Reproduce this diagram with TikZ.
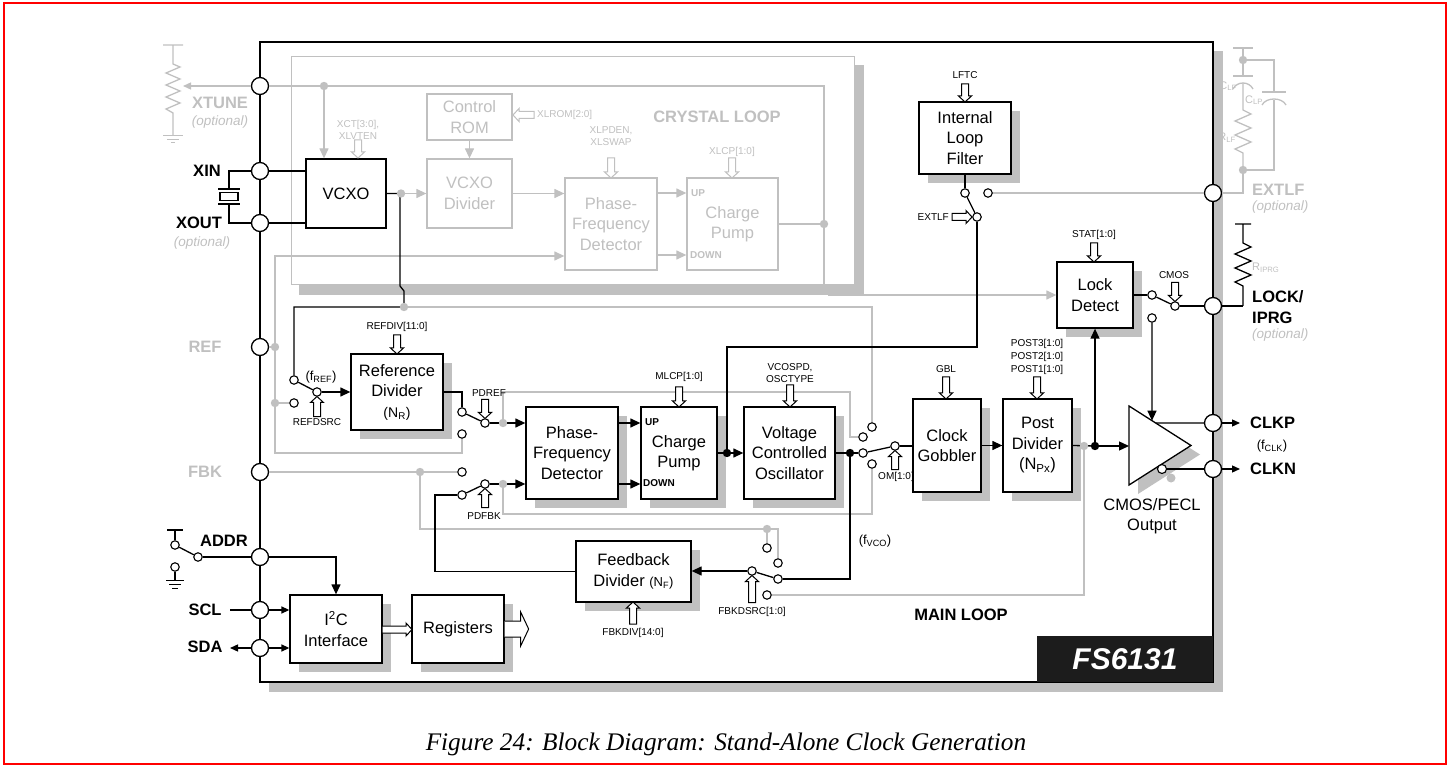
\documentclass[tikz,border=0pt]{standalone}
\usepackage{fontspec}
\setmainfont{Liberation Sans}
\newfontfamily\capfont{Liberation Serif}
\usetikzlibrary{arrows.meta,shadows,calc}
\definecolor{lg}{RGB}{192,192,192}
\definecolor{shd}{RGB}{192,192,192}
\definecolor{fsblk}{RGB}{28,28,28}
\newcommand\busar[5][busst]{\draw[#1,shift={(#2,#3)},rotate=#4] (0,0) -- (-6,-6.5) -- (-6,-3.5) -- (-#5,-3.5) -- (-#5,3.5) -- (-6,3.5) -- (-6,6.5) -- cycle;}
\begin{document}
\begin{tikzpicture}[x=1pt,y=-1pt,
 ln/.style={line width=1.3pt,black},
 gln/.style={line width=1.3pt,lg},
 arr/.style={-{Triangle[length=10pt,width=9pt]}},
 sarr/.style={-{Triangle[length=8pt,width=7pt]}},
 bxf/.style={font=\fontsize{16.5}{20.5}\selectfont},
 blkns/.style={draw,line width=1.3pt,fill=white,inner sep=0pt,align=center,bxf},
 blk/.style={blkns,drop shadow={shadow xshift=9pt,shadow yshift=-9pt,opacity=1,fill=shd}},
 gblk/.style={draw=lg,line width=1.3pt,fill=white,text=lg,inner sep=0pt,align=center,bxf},
 pinc/.style={circle,draw,line width=1.3pt,fill=white,minimum size=17pt,inner sep=0pt},
 ct/.style={circle,draw,line width=1.1pt,fill=white,minimum size=8.5pt,inner sep=0pt},
 sl/.style={font=\fontsize{10}{12.5}\selectfont,inner sep=0pt,align=center},
 gsl/.style={sl,text=lg},
 fl/.style={font=\fontsize{13}{15}\selectfont,inner sep=0pt},
 pl/.style={font=\bfseries\fontsize{16.5}{19}\selectfont,inner sep=0pt},
 gpl/.style={pl,text=lg},
 opt/.style={font=\itshape\fontsize{13.5}{15}\selectfont,text=lg,inner sep=0pt},
 upl/.style={font=\bfseries\fontsize{10}{12}\selectfont,inner sep=0pt},
 busst/.style={draw,line width=1pt,fill=white},
 gbusst/.style={draw=lg,line width=1pt,fill=white},
]
\useasboundingbox (0,0) rectangle (1452,767);
\draw[red,line width=2pt] (3.5,3.5) rectangle (1446,764);

% ---------- external parts ----------
% XTUNE potentiometer
\draw[gln] (163,45) -- (183,45) (173,45) -- (173,64) -- (180,67) -- (166,73) -- (180,79) -- (166,85) -- (180,91) -- (166,97) -- (180,103) -- (166,109) -- (173,113) -- (173,136);
\draw[gln,line width=1pt] (163,136) -- (183,136) (167,139.5) -- (179,139.5) (171,143) -- (175,143);
% crystal
\draw[ln] (218,189) -- (240,189) (218,204) -- (240,204);
\draw[ln,line width=1.1pt] (220,192.5) rectangle (238,200.5);
% ADDR switch
\draw[ln] (167,530) -- (183,530);
\draw[ln,line width=1pt] (166,580) -- (184,580) (169,584) -- (181,584) (172,588) -- (178,588);
% external loop filter
\draw[gln] (1233,48) -- (1253,48) (1243,48) -- (1243,76) (1233,76) -- (1253,76);
\draw[gln] (1233,89) .. controls (1237,81) and (1249,81) .. (1253,89);
\draw[gln] (1243,83) -- (1243,110) -- (1251,114) -- (1235,121) -- (1251,128) -- (1235,135) -- (1251,142) -- (1235,149) -- (1243,153) -- (1243,170);
\draw[gln] (1243,60) -- (1274,60) -- (1274,92) (1262,92) -- (1286,92);
\draw[gln] (1262,105) .. controls (1266,97) and (1282,97) .. (1286,105);
\draw[gln] (1274,100) -- (1274,170) -- (1243,170);
\node[gsl,anchor=east,font=\fontsize{11}{12}\selectfont] at (1237,86) {C\textsubscript{LF}};
\node[gsl,anchor=west,font=\fontsize{11}{12}\selectfont] at (1245,100) {C\textsubscript{LP}};
\node[gsl,anchor=east,font=\fontsize{11}{12}\selectfont] at (1236,138) {R\textsubscript{LF}};
% R_IPRG
\draw[ln] (1235,224) -- (1251,224) (1243,224) -- (1243,243) -- (1251,247) -- (1235,254) -- (1251,261) -- (1235,268) -- (1251,275) -- (1235,282) -- (1243,286) -- (1243,306);
\node[gsl,anchor=west,font=\fontsize{11}{12}\selectfont] at (1252,268) {R\textsubscript{IPRG}};

% ---------- chip ----------
\fill[shd] (269,51) rectangle (1223,692);
\draw[ln,fill=white] (260,42) rectangle (1213,682);
\node[fill=fsblk,text=white,minimum width=176pt,minimum height=46pt,inner sep=0pt,font=\bfseries\itshape\fontsize{30}{32}\selectfont] (fsn) at (1125,659) {FS6131};

% crystal loop box
\fill[shd] (299,65) rectangle (864,295);
\draw[lg,line width=1pt,fill=white] (291,57) rectangle (854,285);

% ---------- blocks ----------
\node[blkns,minimum width=80pt,minimum height=69pt] (vcxo) at (346,193.5) {VCXO};
\node[gblk,minimum width=85pt,minimum height=46pt] (rom) at (469.5,117) {Control\\ROM};
\node[gblk,minimum width=85pt,minimum height=69pt] (vdiv) at (469.5,193.5) {VCXO\\Divider};
\node[gblk,minimum width=92pt,minimum height=92pt] (xpfd) at (611,224) {Phase-\\Frequency\\Detector};
\node[gblk,minimum width=91pt,minimum height=92pt] (xcp) at (732.5,224) {Charge\\Pump};
\node[blk,minimum width=92pt,minimum height=72pt] (ilf) at (965,138) {Internal\\Loop\\Filter};
\node[blk,minimum width=76pt,minimum height=66pt] (ld) at (1095,295) {Lock\\Detect};
\node[blk,minimum width=92pt,minimum height=76pt] (rd) at (397,392) {Reference\\Divider\\{\fontsize{14}{16}\selectfont(N\textsubscript{R})}};
\node[blk,minimum width=92pt,minimum height=92pt] (pfd) at (572,453) {Phase-\\Frequency\\Detector};
\node[blk,minimum width=76pt,minimum height=92pt] (cp) at (679,453) {Charge\\Pump};
\node[blk,minimum width=91pt,minimum height=92pt] (vco) at (789.5,453) {Voltage\\Controlled\\Oscillator};
\node[blk,minimum width=68pt,minimum height=93pt] (cg) at (947,445.5) {Clock\\Gobbler};
\node[blk,minimum width=69pt,minimum height=93pt] (pd) at (1037.5,445.5) {Post\\Divider\\(N\textsubscript{Px})};
\node[blk,minimum width=115pt,minimum height=61pt] (fd) at (633.5,571.5) {Feedback\\Divider {\fontsize{13}{15}\selectfont(N\textsubscript{F})}};
\node[blk,minimum width=92pt,minimum height=68pt] (i2c) at (336,629) {I\textsuperscript{2}C\\Interface};
\node[blk,minimum width=92pt,minimum height=68pt] (reg) at (458,629) {Registers};

\node[upl,text=lg,anchor=west] at (691,193) {UP};
\node[upl,text=lg,anchor=west] at (690,255) {DOWN};
\node[upl,anchor=west] at (645,422) {UP};
\node[upl,anchor=west] at (643,483) {DOWN};

% output buffer
\coordinate (bA) at (1129,406); \coordinate (bB) at (1129,485); \coordinate (bC) at (1191,445.5);
\fill[shd] ($(bA)+(9,9)$) -- ($(bB)+(9,9)$) -- ($(bC)+(9,9)$) -- cycle;
\fill[shd] (1171,478) circle (4.5);
\draw[ln,fill=white,line join=miter] (bA) -- (bB) -- (bC) -- cycle;
\node[ct,minimum size=9pt] (bub) at (1162,469) {};

% ---------- pins ----------
\node[pinc] (pXT) at (260,86) {};
\node[pinc] (pXIN) at (260,171) {};
\node[pinc] (pXOUT) at (260,223) {};
\node[pinc] (pREF) at (260,347) {};
\node[pinc] (pFBK) at (260,472) {};
\node[pinc] (pADDR) at (260,557) {};
\node[pinc] (pSCL) at (260,610) {};
\node[pinc] (pSDA) at (260,648) {};
\node[pinc] (pEXT) at (1213,193) {};
\node[pinc] (pLOCK) at (1213,306) {};
\node[pinc] (pCLKP) at (1213,423) {};
\node[pinc] (pCLKN) at (1213,469) {};

% ---------- switch contacts ----------
\node[ct] (rs1) at (294,380) {}; \node[ct] (rs2) at (294,403) {}; \node[ct] (rsp) at (317,392) {};
\node[ct] (pr1) at (462,412) {}; \node[ct] (pr2) at (462,434) {}; \node[ct] (prp) at (485,423) {};
\node[ct] (pf1) at (462,472) {}; \node[ct] (pf2) at (462,495) {}; \node[ct] (pfp) at (485,484) {};
\node[ct] (om1) at (872,427) {}; \node[ct] (om2) at (863,437) {}; \node[ct] (om3) at (863,453) {}; \node[ct] (om4) at (872,464) {}; \node[ct] (omp) at (895,446) {};
\node[ct] (fs1) at (767,548) {}; \node[ct] (fs2) at (778,563) {}; \node[ct] (fs3) at (778,579) {}; \node[ct] (fs4) at (767,595) {}; \node[ct] (fsp) at (752,571) {};
\node[ct] (es1) at (965,193) {}; \node[ct] (es2) at (988,193) {}; \node[ct] (esp) at (977,217) {};
\node[ct] (ls1) at (1152,295) {}; \node[ct] (ls2) at (1152,318) {}; \node[ct] (lsp) at (1175,306) {};
\node[ct] (as1) at (175,545) {}; \node[ct] (as2) at (175,567) {}; \node[ct] (asp) at (198,557) {};

% ---------- junctions / waypoints ----------
\coordinate (dXT) at (324,86); \coordinate (dVX) at (401,193.5); \coordinate (dVX2) at (404,307);
\coordinate (dCL) at (824,224); \coordinate (dREF) at (275,347); \coordinate (dREF2) at (275,403);
\coordinate (dPR) at (503,423); \coordinate (dPF) at (503,484); \coordinate (dFBK) at (420,472);
\coordinate (dFS) at (767,529); \coordinate (dPD2) at (1084,446); \coordinate (dE1) at (1243,60); \coordinate (dE2) at (1243,170);
\coordinate (dCP) at (727,453); \coordinate (dVCO) at (850,453); \coordinate (dPD) at (1095,446);
\coordinate (wXT) at (824,86); \coordinate (wXT2) at (824,285); \coordinate (wD) at (828,295);
\coordinate (wA) at (850,392); \coordinate (wB) at (872,514); \coordinate (wC) at (872,307);
\coordinate (wR) at (462,453); \coordinate (wE) at (400,193.5); \coordinate (wF) at (400,286); \coordinate (wG) at (404,291);
\coordinate (wI) at (435,495); \coordinate (wJ) at (977,347); \coordinate (wK) at (1243,306);
\coordinate (xt) at (229,171); \coordinate (xb) at (229,223); \coordinate (xtp) at (229,189); \coordinate (xbp) at (229,204);
\coordinate (pot) at (183,86); \coordinate (sclw) at (230,610); \coordinate (sdaw) at (230,648);
\coordinate (atop) at (175,530); \coordinate (agnd) at (175,580);
\coordinate (clkpo) at (1240,423); \coordinate (clkno) at (1240,469);

% ---------- grey connections ----------
\draw[gln,sarr] (pXT) -- (pot);
\draw[gln] (pXT) -- (dXT) -- (wXT) -- (wXT2);
\draw[gln,arr] (dXT) -- (dXT |- vcxo.north);
\draw[gln,arr] (dVX) -- (dVX -| vdiv.west);
\draw[gln,arr] (rom) -- (vdiv);
\draw[gln,arr] (vdiv.east) -- (vdiv.east -| xpfd.west);
\draw[gln,arr] ($(xpfd.east)+(0,-31)$) -- ($(xcp.west)+(0,-31)$);
\draw[gln,arr] ($(xpfd.east)+(0,31)$) -- ($(xcp.west)+(0,31)$);
\draw[gln] (xcp) -- (dCL);
\draw[gln,arr] (wD) -- (ld);
\draw[gln] (pREF) -- (dREF);
\draw[gln,arr] (dREF) |- ($(xpfd.west)+(0,32)$);
\draw[gln] (dREF) -- (dREF2) -- (rs2);
\draw[gln] (dREF2) |- (wR) -- (pr2);
\draw[gln] (dPR) |- (wA) |- (om2);
\draw[gln] (dPF) |- (wB) -- (om4);
\draw[gln] (dVX2) -- (wC) -- (om1);
\draw[gln] (pFBK) -- (dFBK) -- (pf1);
\draw[gln] (dFBK) |- (dFS);
\draw[gln] (dFS) -- (fs1);
\draw[gln] (dFS) -| (fs2);
\draw[gln] (dPD2) |- (fs4);
\draw[gln] (pEXT) -- (es2);
\draw[gln] (pEXT) -| (dE2);

% ---------- black connections ----------
\draw[ln] (pXIN) -- (pXIN -| vcxo.west);
\draw[ln] (pXOUT) -- (pXOUT -| vcxo.west);
\draw[ln] (pXIN) -- (xt) -- (xtp);
\draw[ln] (pXOUT) -- (xb) -- (xbp);
\draw[ln] (vcxo.east) -- (wE) -- (wF) -- (wG) -- (dVX2) -| (rs1);
\draw[ln] (rs1) -- (rsp);
\draw[ln,arr] (rsp) -- (rsp -| rd.west);
\draw[ln] (rd.east) -| (pr1);
\draw[ln] (pr1) -- (prp);
\draw[ln,arr] (prp) -- (prp -| pfd.west);
\draw[ln] (pf2) -- (pfp);
\draw[ln,arr] (pfp) -- (pfp -| pfd.west);
\draw[ln] (fd.west) -| (wI) -- (pf2);
\draw[ln,arr] (pfd.east |- prp) -- (cp.west |- prp);
\draw[ln,arr] (pfd.east |- pfp) -- (cp.west |- pfp);
\draw[ln] (cp.east) -- (dCP);
\draw[ln,arr] (dCP) -- (vco.west);
\draw[ln] (dCP) |- (wJ) -- (esp);
\draw[ln] (ilf.south) -- (es1);
\draw[ln] (es1) -- (esp);
\draw[ln] (vco.east) -- (dVCO) -- (om3);
\draw[ln] (om3) -- (omp);
\draw[ln] (omp) -- (omp -| cg.west);
\draw[ln] (dVCO) |- (fs3);
\draw[ln] (fs3) -- (fsp);
\draw[ln,arr] (fsp) -- (fsp -| fd.east);
\draw[ln,arr] (cg.east) -- (cg.east -| pd.west);
\draw[ln] (pd.east) -- (dPD);
\draw[ln,arr] (dPD) -- (dPD -| bA);
\draw[ln,arr] (dPD) -- (dPD |- ld.south);
\draw[ln] (ld.east) -- (ls1);
\draw[ln] (ls1) -- (lsp);
\draw[ln] (lsp) -- (pLOCK);
\draw[ln] (pLOCK) -- (wK);
\draw[ln,arr] (ls2) -- ($(bA)!0.371!(bC)$);
\draw[ln] ($(bA)!0.43!(bC)$) -- (pCLKP);
\draw[ln,sarr] (pCLKP) -- (clkpo);
\draw[ln] (bub) -- (pCLKN);
\draw[ln,sarr] (pCLKN) -- (clkno);
\draw[ln] (atop) -- (as1);
\draw[ln] (as1) -- (asp);
\draw[ln] (as2) -- (agnd);
\draw[ln] (asp) -- (pADDR);
\draw[ln,arr] (pADDR) -| (i2c.north);
\draw[ln] (sclw) -- (pSCL);
\draw[ln,sarr] (pSCL) -- (pSCL -| i2c.west);
\draw[ln,sarr] (pSDA) -- (sdaw);
\draw[ln,sarr] (pSDA) -- (pSDA -| i2c.west);

% ---------- dots ----------
\foreach \p in {dXT,dVX,dVX2,dCL,dREF,dREF2,dPR,dPF,dFBK,dFS,dPD2,dE1,dE2} \fill[lg] (\p) circle (4.2);
\foreach \p in {dCP,dVCO,dPD} \fill[black] (\p) circle (4.2);

% ---------- bus arrows ----------
\busar[gbusst]{358}{158}{-90}{18}
\busar[gbusst]{513}{115}{180}{21}
\busar[gbusst]{611}{178}{-90}{20}
\busar[gbusst]{732}{178}{-90}{20}
\busar{965}{102}{-90}{18}
\busar{972}{217}{0}{20}
\busar{1094}{262}{-90}{19}
\busar{1175}{301.5}{-90}{19}
\busar{397}{354}{-90}{19}
\busar{317}{396.5}{90}{20}
\busar{485}{418.5}{-90}{19}
\busar{485}{488.5}{90}{19}
\busar{679}{407}{-90}{20}
\busar{790}{407}{-90}{22}
\busar{946}{399}{-90}{22}
\busar{1037}{399}{-90}{22}
\busar{895}{450.5}{90}{19}
\busar{752}{575.5}{90}{27}
\busar{633}{602}{90}{22}
\busar{412}{629.5}{0}{30}
\draw[busst,shift={(reg.east)}] (0,-8) -- (16,-8) -- (16,-17) -- (24,0) -- (16,17) -- (16,8) -- (0,8);

% ---------- labels ----------
\node[gpl] at (220,103) {XTUNE};
\node[opt] at (220,122) {(optional)};
\node[pl] at (207,171) {XIN};
\node[pl] at (199,223) {XOUT};
\node[opt] at (202,243) {(optional)};
\node[gpl] at (205,347) {REF};
\node[gpl] at (205,472) {FBK};
\node[pl] at (224,541) {ADDR};
\node[pl] at (205,610) {SCL};
\node[pl] at (205,647) {SDA};
\node[gpl,anchor=west] at (1252,190) {EXTLF};
\node[opt,anchor=west] at (1252,207) {(optional)};
\node[pl,anchor=west] at (1252,297) {LOCK/};
\node[pl,anchor=west] at (1252,318) {IPRG};
\node[opt,anchor=west] at (1252,335) {(optional)};
\node[pl,anchor=west] at (1250,423) {CLKP};
\node[pl,anchor=west] at (1250,469) {CLKN};
\node[fl] at (1272,446) {(f\textsubscript{CLK})};

\node[gpl] at (717,117) {CRYSTAL LOOP};
\node[pl] at (961,615) {MAIN LOOP};
\node[bxf,align=center,inner sep=0pt] at (1152,516) {CMOS/PECL\\Output};

\node[gsl] at (358,130) {XCT[3:0],\\XLVTEN};
\node[gsl,anchor=west] at (537,115) {XLROM[2:0]};
\node[gsl] at (611,136) {XLPDEN,\\XLSWAP};
\node[gsl] at (732,152) {XLCP[1:0]};
\node[sl] at (965,75) {LFTC};
\node[sl,anchor=east] at (949,217) {EXTLF};
\node[sl] at (1094,235) {STAT[1:0]};
\node[sl] at (1174,275) {CMOS};
\node[sl] at (397,327) {REFDIV[11:0]};
\node[fl] at (321,377) {(f\textsubscript{REF})};
\node[sl] at (317,422) {REFDSRC};
\node[sl] at (489,393) {PDREF};
\node[sl] at (484,516) {PDFBK};
\node[sl] at (679,377) {MLCP[1:0]};
\node[sl] at (790,373) {VCOSPD,\\OSCTYPE};
\node[sl] at (946,369) {GBL};
\node[sl,font=\fontsize{10}{13}\selectfont] at (1037,357) {POST3[1:0]\\POST2[1:0]\\POST1[1:0]};
\node[sl] at (896,477) {OM[1:0]};
\node[fl] at (875,541) {(f\textsubscript{VCO})};
\node[sl] at (752,612) {FBKDSRC[1:0]};
\node[sl] at (633,633) {FBKDIV[14:0]};

\node[font=\capfont\itshape\fontsize{25.3}{28}\selectfont,inner sep=0pt] (cap) at (726,744) {Figure 24: Block Diagram: Stand-Alone Clock Generation};
\end{tikzpicture}
\end{document}
